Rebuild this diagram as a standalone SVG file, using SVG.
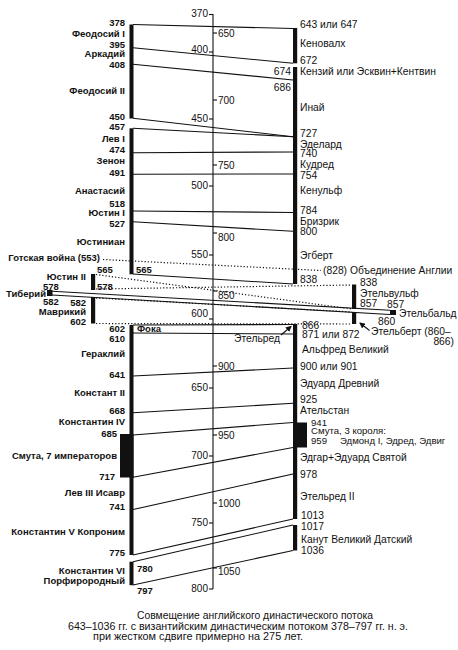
<svg xmlns="http://www.w3.org/2000/svg" width="458" height="650" viewBox="0 0 458 650">
<style>
text{font-family:"Liberation Sans",Arial,sans-serif;fill:#111}
.L{font-size:9.5px;font-weight:bold;text-anchor:end}
.Ls{font-size:9.5px;font-weight:bold}
.R{font-size:10.3px}
.Rs{font-size:9.6px}
.Re{font-size:10.3px;text-anchor:end}
.ax{font-size:10px;text-anchor:end}
.ex{font-size:10px}
.cap{font-size:10.4px}
.ln{stroke:#111;stroke-width:1.1;fill:none}
.dt{stroke:#111;stroke-width:1.2;fill:none;stroke-dasharray:1.2 2}
.bar{fill:#111}
</style>
<defs>
<marker id="ah" markerWidth="6" markerHeight="6" refX="5" refY="3" orient="auto" markerUnits="userSpaceOnUse"><path d="M0,0 L6,3 L0,6 Z" fill="#111"/></marker>
</defs>

<g id="axis">
<line class="ln" x1="213" y1="14" x2="213" y2="589"/>
<g class="ln">
<line x1="209" y1="14.5" x2="213" y2="14.5"/><line x1="209" y1="52" x2="213" y2="52"/><line x1="209" y1="119" x2="213" y2="119"/><line x1="209" y1="186" x2="213" y2="186"/><line x1="209" y1="255" x2="213" y2="255"/><line x1="209" y1="319" x2="213" y2="319"/><line x1="209" y1="388" x2="213" y2="388"/><line x1="209" y1="456" x2="213" y2="456"/><line x1="209" y1="523" x2="213" y2="523"/><line x1="209" y1="589" x2="213" y2="589"/>
<line x1="213" y1="33" x2="217" y2="33"/><line x1="213" y1="100" x2="217" y2="100"/><line x1="213" y1="165" x2="217" y2="165"/><line x1="213" y1="233" x2="217" y2="233"/><line x1="213" y1="291" x2="217" y2="291"/><line x1="213" y1="366" x2="217" y2="366"/><line x1="213" y1="435" x2="217" y2="435"/><line x1="213" y1="503" x2="217" y2="503"/><line x1="213" y1="568" x2="217" y2="568"/>
</g>
<text class="ax" x="208" y="17">370</text><text class="ax" x="208" y="52.5">400</text><text class="ax" x="208" y="122">450</text><text class="ax" x="208" y="188.5">500</text><text class="ax" x="208" y="257.5">550</text><text class="ax" x="208" y="316.5">600</text><text class="ax" x="208" y="391">650</text><text class="ax" x="208" y="458.5">700</text><text class="ax" x="208" y="526">750</text><text class="ax" x="208" y="592">800</text>
<text class="ex" x="218" y="37">650</text><text class="ex" x="218" y="103.5">700</text><text class="ex" x="218" y="168.5">750</text><text class="ex" x="218" y="241">800</text><text class="ex" x="218" y="298.5">850</text><text class="ex" x="218" y="369.5">900</text><text class="ex" x="218" y="438.5">950</text><text class="ex" x="218" y="507">1000</text><text class="ex" x="218" y="575">1050</text>
</g>

<g id="connectors">
<line class="ln" x1="133" y1="24.5" x2="293" y2="28.5"/>
<line class="ln" x1="133" y1="47.7" x2="293" y2="63.3"/>
<line class="ln" x1="133" y1="64.3" x2="293" y2="80"/>
<line class="ln" x1="133" y1="118.3" x2="293" y2="136.7"/>
<line class="ln" x1="133" y1="128.3" x2="293" y2="136.7"/>
<line class="ln" x1="133" y1="152.7" x2="293" y2="152"/>
<line class="ln" x1="133" y1="174.3" x2="293" y2="174"/>
<line class="ln" x1="133" y1="211" x2="293" y2="212.5"/>
<line class="ln" x1="133" y1="221.7" x2="293" y2="231.3"/>
<line class="ln" x1="133" y1="274" x2="293" y2="284"/>
<line class="ln" x1="133" y1="325" x2="293" y2="324.5"/>
<line class="ln" x1="133" y1="333" x2="293" y2="334"/>
<line class="ln" x1="133" y1="376" x2="293" y2="368"/>
<line class="ln" x1="133" y1="412.7" x2="293" y2="403.3"/>
<line class="ln" x1="133" y1="435" x2="293" y2="422.5"/>
<line class="ln" x1="133" y1="477.3" x2="293" y2="447.5"/>
<line class="ln" x1="133" y1="509.5" x2="293" y2="474"/>
<line class="ln" x1="133" y1="555" x2="293" y2="519"/>
<line class="ln" x1="133" y1="561.7" x2="293" y2="525"/>
<line class="ln" x1="133" y1="585" x2="293" y2="550.5"/>
<line class="ln" x1="52" y1="291.3" x2="390" y2="310.3"/>
<line class="ln" x1="52" y1="295" x2="390" y2="314.5"/>
<line class="dt" x1="103" y1="259.5" x2="321" y2="270.5"/>
<line class="dt" x1="96" y1="274.5" x2="352" y2="309"/>
<line class="dt" x1="96" y1="289" x2="352" y2="285"/>
<line class="dt" x1="96" y1="298" x2="352" y2="312"/>
<line class="dt" x1="96" y1="323.5" x2="352" y2="324"/>
<line class="ln" x1="281" y1="335" x2="291" y2="326.5" marker-end="url(#ah)"/>
<line class="ln" x1="369.5" y1="330.5" x2="360" y2="323" marker-end="url(#ah)"/>
</g>

<g id="byzantine-bars">
<rect class="bar" x="129.5" y="24.5" width="4" height="94"/>
<rect class="bar" x="129.5" y="128.3" width="4" height="146"/>
<rect class="bar" x="129.5" y="325" width="4" height="230"/>
<rect class="bar" x="120" y="434" width="13.5" height="43.5"/>
<rect class="bar" x="129.5" y="561.7" width="4" height="23.5"/>
<rect class="bar" x="91" y="274" width="4.2" height="16"/>
<rect class="bar" x="91" y="297" width="4.2" height="26.5"/>
<rect class="bar" x="47" y="290" width="5.5" height="6"/>
</g>

<g id="english-bars">
<rect class="bar" x="293" y="28" width="4.2" height="35.3"/>
<rect class="bar" x="293" y="67" width="4.2" height="217"/>
<rect class="bar" x="293" y="324" width="4.2" height="195"/>
<rect class="bar" x="293" y="422.5" width="14" height="25"/>
<rect class="bar" x="293" y="525" width="4.2" height="25.5"/>
<rect class="bar" x="352" y="284.5" width="4.2" height="24.5"/>
<rect class="bar" x="352" y="312" width="4.2" height="12"/>
<rect class="bar" x="390" y="310" width="6" height="5"/>
</g>

<g id="byzantine-labels">
<text class="L" x="125" y="26.2">378</text>
<text class="L" x="125" y="36.6">Феодосий I</text>
<text class="L" x="125" y="47.6">395</text>
<text class="L" x="125" y="56.8">Аркадий</text>
<text class="L" x="125" y="67.8">408</text>
<text class="L" x="125" y="93.5">Феодосий II</text>
<text class="L" x="125" y="120.2">450</text>
<text class="L" x="125" y="130.2">457</text>
<text class="L" x="125" y="141.8">Лев I</text>
<text class="L" x="125" y="152.8">474</text>
<text class="L" x="125" y="164.2">Зенон</text>
<text class="L" x="125" y="175.8">491</text>
<text class="L" x="125" y="194.2">Анастасий</text>
<text class="L" x="125" y="206.8">518</text>
<text class="L" x="125" y="215.8">Юстин I</text>
<text class="L" x="125" y="226.8">527</text>
<text class="L" x="125" y="245.2">Юстиниан</text>
<text class="L" x="100" y="260.8">Готская война (553)</text>
<text class="Ls" x="97" y="273">565</text>
<text class="Ls" x="136" y="273">565</text>
<text class="L" x="86" y="280.2">Юстин II</text>
<text class="Ls" x="43" y="290">578</text>
<text class="Ls" x="97" y="290">578</text>
<text class="L" x="46" y="296.5">Тиберий</text>
<text class="Ls" x="43" y="304.5">582</text>
<text class="L" x="86" y="306">582</text>
<text class="L" x="86" y="315.4">Маврикий</text>
<text class="L" x="86" y="324.5">602</text>
<text class="L" x="125" y="332.3">602</text>
<text class="Ls" x="137" y="332">Фока</text>
<text class="L" x="125" y="341.5">610</text>
<text class="L" x="125" y="356.5">Гераклий</text>
<text class="L" x="125" y="377.5">641</text>
<text class="L" x="125" y="396.2">Констант II</text>
<text class="L" x="125" y="413.5">668</text>
<text class="L" x="125" y="425.2">Константин IV</text>
<text class="L" x="117" y="436.8">685</text>
<text class="L" x="117" y="458.5">Смута, 7 императоров</text>
<text class="L" x="115" y="479.5">717</text>
<text class="L" x="125" y="496.2">Лев III Исавр</text>
<text class="L" x="125" y="510.2">741</text>
<text class="L" x="125" y="535.2">Константин V Копроним</text>
<text class="L" x="125" y="556.2">775</text>
<text class="L" x="125" y="573.5">Константин VI</text>
<text class="L" x="125" y="584.2">Порфирородный</text>
<text class="Ls" x="137" y="571.8">780</text>
<text class="Ls" x="137" y="593.5">797</text>
</g>

<g id="english-labels">
<text class="R" x="300" y="27.8">643 или 647</text>
<text class="R" x="300" y="46.8">Кеновалх</text>
<text class="R" x="300" y="64.2">672</text>
<text class="Re" x="291" y="75.2">674</text>
<text class="R" x="300" y="75.2">Кензий или Эсквин+Кентвин</text>
<text class="Re" x="291" y="90.8">686</text>
<text class="R" x="300" y="110.8">Инай</text>
<text class="R" x="300" y="136.8">727</text>
<text class="R" x="300" y="147.5">Эделард</text>
<text class="R" x="300" y="156.8">740</text>
<text class="R" x="300" y="167.5">Кудред</text>
<text class="R" x="300" y="178.5">754</text>
<text class="R" x="300" y="193.5">Кенульф</text>
<text class="R" x="300" y="213.5">784</text>
<text class="R" x="300" y="224.5">Бризрик</text>
<text class="R" x="300" y="234.5">800</text>
<text class="R" x="300" y="258.5">Эгберт</text>
<text class="R" x="323" y="274.2">(828) Объединение Англии</text>
<text class="R" x="300" y="282.8">838</text>
<text class="R" x="360" y="286.2">838</text>
<text class="R" x="360" y="296.8">Этельвульф</text>
<text class="R" x="360" y="306.5">857</text>
<text class="R" x="387" y="307.5">857</text>
<text class="R" x="399" y="316.5">Этельбальд</text>
<text class="R" x="378" y="325.2">860</text>
<text class="R" x="302" y="328.5">866</text>
<text class="R" x="302" y="337.5">871 или 872</text>
<text class="Re" x="280" y="341.8">Этельред</text>
<text class="R" x="371" y="334.5">Этельберт (860–</text>
<text class="Re" x="454" y="344.5">866)</text>
<text class="R" x="302" y="352.8">Альфред Великий</text>
<text class="R" x="300" y="369.5">900 или 901</text>
<text class="R" x="300" y="386.8">Эдуард Древний</text>
<text class="R" x="300" y="402.8">925</text>
<text class="R" x="300" y="414.2">Ательстан</text>
<text class="Rs" x="311" y="425.6">941</text>
<text class="Rs" x="311" y="434.4">Смута, 3 короля:</text>
<text class="Rs" x="311" y="444.2">959</text>
<text class="Rs" x="340" y="444.2">Эдмонд I, Эдред, Эдвиг</text>
<text class="R" x="300" y="460.8">Эдгар+Эдуард Святой</text>
<text class="R" x="300" y="477.5">978</text>
<text class="R" x="300" y="500.2">Этельред II</text>
<text class="R" x="301" y="519.2">1013</text>
<text class="R" x="301" y="529.5">1017</text>
<text class="R" x="301" y="542.5">Канут Великий Датский</text>
<text class="R" x="301" y="553.5">1036</text>
</g>

<g id="caption">
<text class="cap" x="137" y="619" textLength="236" lengthAdjust="spacingAndGlyphs">Совмещение английского династического потока</text>
<text class="cap" x="68" y="629.5" textLength="340" lengthAdjust="spacingAndGlyphs">643–1036 гг. с византийским династическим потоком 378–797 гг. н. э.</text>
<text class="cap" x="93" y="639.5" textLength="210" lengthAdjust="spacingAndGlyphs">при жестком сдвиге примерно на 275 лет.</text>
</g>
</svg>
